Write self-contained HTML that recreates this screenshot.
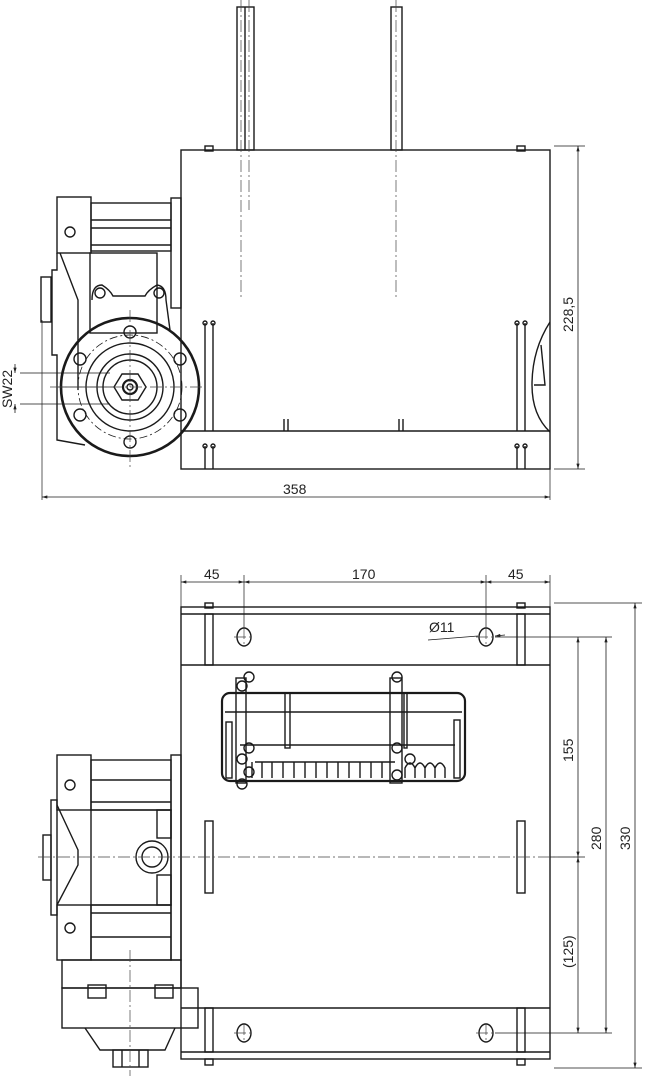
<!DOCTYPE html>
<html><head><meta charset="utf-8"><style>
html,body{margin:0;padding:0;background:#fff;}
svg{display:block;}
text{font-family:"Liberation Sans",sans-serif;font-size:14px;fill:#222;}
</style></head><body>
<svg width="650" height="1076" viewBox="0 0 650 1076" xmlns="http://www.w3.org/2000/svg">
<defs>
<marker id="a" viewBox="0 0 10 6" refX="10" refY="3" markerWidth="7" markerHeight="4" orient="auto-start-reverse"><path d="M0,0L10,3L0,6z" fill="#222"/></marker>
</defs>
<g fill="none" stroke="#1a1a1a" stroke-width="1.4">
<rect x="237" y="7" width="17" height="143"/>
<line x1="245" y1="7" x2="245" y2="150"/>
<rect x="391" y="7" width="11" height="143"/>
<rect x="205" y="146" width="8" height="5"/>
<rect x="517" y="146" width="8" height="5"/>
<rect x="181" y="150" width="369" height="319"/>
<line x1="181" y1="431" x2="550" y2="431"/>
<path d="M205 323V431M213 323V431M517 323V431M525 323V431"/>
<path d="M205 446V469M213 446V469M517 446V469M525 446V469"/>
<circle cx="205" cy="323" r="2"/><circle cx="213" cy="323" r="2"/><circle cx="517" cy="323" r="2"/><circle cx="525" cy="323" r="2"/>
<circle cx="205" cy="446" r="2"/><circle cx="213" cy="446" r="2"/><circle cx="517" cy="446" r="2"/><circle cx="525" cy="446" r="2"/>
<path d="M284 419V431M288 419V431M399 419V431M403 419V431"/>
<path d="M550 322Q532 350 532 385Q532 415 550 432"/>
<path d="M541 345L545 385H534"/>
<rect x="57" y="197" width="34" height="56"/>
<rect x="91" y="203" width="80" height="48"/>
<line x1="91" y1="220" x2="171" y2="220"/><line x1="91" y1="228" x2="171" y2="228"/><line x1="91" y1="245" x2="171" y2="245"/>
<rect x="171" y="198" width="10" height="110"/>
<path d="M57 253L57 270 L52 270 L52 355 L57 355 L57 440 L85 445"/>
<path d="M60 253L78 300 L78 390"/>
<rect x="41" y="277" width="10" height="45"/>
<rect x="90" y="253" width="67" height="80"/>
<path d="M92 300Q92 285 102 285Q110 290 113 296H145Q148 290 157 285Q166 286 166 300Q168 315 170 330"/>
<circle cx="100" cy="293" r="5"/><circle cx="159" cy="293" r="5"/>
<circle cx="70" cy="232" r="5"/>
<circle cx="130" cy="387" r="69" stroke-width="2.6"/>
<circle cx="130" cy="387" r="52" stroke-dasharray="8 3 2 3" stroke-width="0.8"/>
<circle cx="130" cy="387" r="44"/>
<circle cx="130" cy="387" r="33"/>
<circle cx="130" cy="387" r="27"/>
<path d="M114 387L122 374H138L146 387L138 400H122Z"/>
<circle cx="130" cy="387" r="7" stroke-width="2.2"/>
<circle cx="130" cy="387" r="3"/>
<circle cx="130" cy="332" r="6"/><circle cx="130" cy="442" r="6"/>
<circle cx="80" cy="359" r="6"/><circle cx="180" cy="359" r="6"/>
<circle cx="80" cy="415" r="6"/><circle cx="180" cy="415" r="6"/>
<path d="M114 387H58M20 373H110M20 404H110" stroke-width="0.8"/>
<path d="M554 146H585M554 469H585" stroke-width="0.7"/>
<line x1="578" y1="146" x2="578" y2="469" stroke-width="0.8" marker-start="url(#a)" marker-end="url(#a)"/>
<path d="M42 320V500M550 469V500" stroke-width="0.7"/>
<line x1="42" y1="497" x2="550" y2="497" stroke-width="0.8" marker-start="url(#a)" marker-end="url(#a)"/>
<line x1="15" y1="364" x2="15" y2="373" stroke-width="0.8" marker-end="url(#a)"/>
<line x1="15" y1="413" x2="15" y2="404" stroke-width="0.8" marker-end="url(#a)"/>

<rect x="181" y="607" width="369" height="452"/>
<line x1="181" y1="614" x2="550" y2="614"/>
<line x1="181" y1="665" x2="550" y2="665"/>
<line x1="181" y1="1008" x2="550" y2="1008"/>
<line x1="181" y1="1052" x2="550" y2="1052"/>
<rect x="205" y="603" width="8" height="5"/><rect x="517" y="603" width="8" height="5"/>
<rect x="205" y="614" width="8" height="51"/><rect x="517" y="614" width="8" height="51"/>
<rect x="205" y="1008" width="8" height="44"/><rect x="517" y="1008" width="8" height="44"/>
<rect x="205" y="1059" width="8" height="6"/><rect x="517" y="1059" width="8" height="6"/>
<rect x="205" y="821" width="8" height="72"/><rect x="517" y="821" width="8" height="72"/>
<ellipse cx="244" cy="637" rx="7" ry="9"/><ellipse cx="486" cy="637" rx="7" ry="9"/>
<ellipse cx="244" cy="1033" rx="7" ry="9"/><ellipse cx="486" cy="1033" rx="7" ry="9"/>
<rect x="222" y="693" width="243" height="88" rx="8" stroke-width="2.2"/>
<line x1="225" y1="712" x2="462" y2="712"/>
<line x1="240" y1="745" x2="455" y2="745"/>
<path d="M255 762H395M252 762V778M262 762V778M272 762V778M283 762V778M294 762V778M305 762V778M316 762V778M327 762V778M338 762V778M349 762V778M360 762V778M371 762V778M382 762V778"/>
<path d="M405 778V768Q410 758 415 768V778M415 768Q420 758 425 768V778M425 768Q430 758 435 768V778M435 768Q440 758 445 768V778"/>
<rect x="285" y="693" width="5" height="55"/><rect x="404" y="693" width="3" height="55"/>
<rect x="454" y="720" width="6" height="58"/><rect x="226" y="722" width="6" height="56"/>
<rect x="236" y="678" width="10" height="105"/><rect x="390" y="678" width="12" height="105"/>
<circle cx="249" cy="677" r="5"/><circle cx="242" cy="686" r="5"/><circle cx="397" cy="677" r="5"/>
<circle cx="249" cy="748" r="5"/><circle cx="242" cy="759" r="5"/><circle cx="249" cy="772" r="5"/><circle cx="242" cy="784" r="5"/>
<circle cx="397" cy="748" r="5"/><circle cx="397" cy="775" r="5"/><circle cx="410" cy="759" r="5"/>
<rect x="57" y="755" width="34" height="55"/>
<rect x="57" y="905" width="34" height="55"/>
<rect x="91" y="760" width="80" height="50"/>
<line x1="91" y1="780" x2="171" y2="780"/><line x1="91" y1="802" x2="171" y2="802"/>
<rect x="91" y="905" width="80" height="55"/>
<line x1="91" y1="913" x2="171" y2="913"/><line x1="91" y1="937" x2="171" y2="937"/>
<rect x="91" y="810" width="80" height="95"/>
<rect x="171" y="755" width="10" height="205"/>
<rect x="157" y="810" width="14" height="28"/><rect x="157" y="875" width="14" height="30"/>
<path d="M57 805L78 850V865L57 905"/>
<rect x="51" y="800" width="6" height="115"/>
<rect x="43" y="835" width="8" height="45"/>
<circle cx="152" cy="857" r="16"/><circle cx="152" cy="857" r="10"/>
<circle cx="70" cy="785" r="5"/><circle cx="70" cy="928" r="5"/>
<rect x="62" y="960" width="119" height="28"/>
<rect x="62" y="988" width="136" height="40"/>
<rect x="88" y="985" width="18" height="13"/><rect x="155" y="985" width="18" height="13"/>
<path d="M85 1028L100 1050H165L175 1028"/>
<rect x="113" y="1050" width="35" height="17"/>
<line x1="122" y1="1050" x2="122" y2="1067"/><line x1="139" y1="1050" x2="139" y2="1067"/>
<path d="M181 575V607M244 575V628M486 575V628M550 575V607" stroke-width="0.7"/>
<line x1="181" y1="582" x2="244" y2="582" stroke-width="0.8" marker-start="url(#a)" marker-end="url(#a)"/>
<line x1="244" y1="582" x2="486" y2="582" stroke-width="0.8" marker-start="url(#a)" marker-end="url(#a)"/>
<line x1="486" y1="582" x2="550" y2="582" stroke-width="0.8" marker-start="url(#a)" marker-end="url(#a)"/>
<path d="M554 603H642M554 1068H642M495 637H612M495 1033H612M550 857H585" stroke-width="0.7"/>
<line x1="635" y1="603" x2="635" y2="1068" stroke-width="0.8" marker-start="url(#a)" marker-end="url(#a)"/>
<line x1="606" y1="637" x2="606" y2="1033" stroke-width="0.8" marker-start="url(#a)" marker-end="url(#a)"/>
<line x1="578" y1="637" x2="578" y2="857" stroke-width="0.8" marker-start="url(#a)" marker-end="url(#a)"/>
<line x1="578" y1="857" x2="578" y2="1033" stroke-width="0.8" marker-start="url(#a)" marker-end="url(#a)"/>
<line x1="428" y1="640" x2="478" y2="636" stroke-width="0.7"/>
<line x1="505" y1="635" x2="495" y2="636" stroke-width="0.8" marker-end="url(#a)"/>
</g>
<g fill="none" stroke="#444" stroke-width="0.7" stroke-dasharray="12 3 2 3">
<path d="M241 0V298M249 0V210M396 0V298"/>
<path d="M130 310V470M50 387H205"/>
<path d="M38 857H580"/>
<path d="M130 950V1076"/>
<path d="M234 637H254M244 627V647M476 637H496M486 627V647M234 1033H254M244 1023V1043M476 1033H496M486 1023V1043"/>
</g>
<text x="283" y="494">358</text>
<text transform="translate(573,332) rotate(-90)">228,5</text>
<text transform="translate(12,408) rotate(-90)">SW22</text>
<text x="204" y="579">45</text>
<text x="352" y="579">170</text>
<text x="508" y="579">45</text>
<text x="429" y="632">Ø11</text>
<text transform="translate(573,762) rotate(-90)">155</text>
<text transform="translate(573,968) rotate(-90)">(125)</text>
<text transform="translate(601,850) rotate(-90)">280</text>
<text transform="translate(630,850) rotate(-90)">330</text>
</svg>
</body></html>
